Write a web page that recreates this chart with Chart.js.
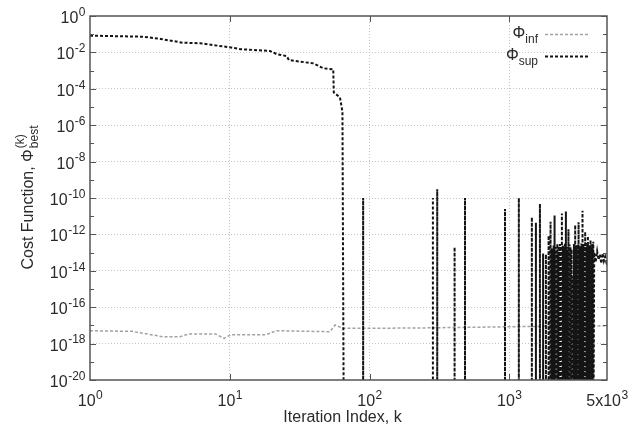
<!DOCTYPE html>
<html>
<head>
<meta charset="utf-8">
<script src="https://cdn.jsdelivr.net/npm/chart.js@4.4.0/dist/chart.umd.min.js"></script>
<style>
html, body { margin: 0; padding: 0; background: #fff; }
#wrap { width: 640px; height: 434px; }
</style>
</head>
<body>
<div id="wrap"><canvas id="myChart"></canvas></div>
<script>
// anything below the axis floor stands for "zero" on the log plot
var FLOOR = 1e-25;

// Phi_sup: smooth descent before the collapse
var supK   = [1, 2.4, 3.2, 4.6, 6.1, 10, 12, 19.4, 21.6, 25.5, 26.5, 31.8, 39.6, 46.6, 55, 55.5, 61.4, 64, 65.6];
var supVal = [8.3e-2, 7.3e-2, 5.5e-2, 3.4e-2, 3.2e-2, 1.9e-2, 1.5e-2, 1.2e-2, 8.1e-3, 6.3e-3, 3.8e-3, 3.1e-3, 2.5e-3, 1.35e-3, 1.17e-3, 6.3e-5, 3.4e-5, 5.5e-6, FLOOR];

// Phi_sup: isolated spikes after the collapse
var spikeK    = [90, 284, 305, 406, 482, 932, 1170, 1450, 1550, 1656, 1745, 1828, 1910, 1973, 2010, 2040, 2075, 2108, 2140, 2170, 2205, 2238, 2270, 2300, 2340, 2378,
                 2420, 2460, 2500, 2540, 2570, 2600, 2650, 2700, 2740, 2790, 2840, 2900, 2960, 3000, 3040, 3090, 3130, 3180, 3230, 3280, 3340, 3380, 3420, 3490, 3530, 3570, 3610, 3650, 3690, 3730, 3810, 3860, 3900, 3950, 3990];
var spikePeak = [1e-10, 1e-10, 3e-10, 2e-13, 1e-10, 2.5e-11, 1e-10, 8.7e-12, 4.4e-12, 4.7e-11, 9e-14, 8e-14, 8.5e-13, 5e-12, 1.8e-13, 1.5e-13, 2.5e-13, 1.1e-11, 1.2e-13, 2e-13, 3e-13, 1e-13, 2.2e-13, 3e-13, 1.6e-13, 1.4e-11,
                 2.4e-13, 2e-13, 3.5e-13, 1.8e-11, 2e-13, 1.5e-13, 1.9e-12, 2.8e-13, 2e-13, 1.5e-13, 5e-15, 3e-13, 3.3e-12, 2.5e-13, 2e-13, 3e-13, 4.6e-12, 2.2e-13, 1.5e-13, 3.2e-13, 2e-11, 2.6e-13, 3e-13, 1.4e-12, 2.1e-13, 2e-13, 3.4e-13, 8e-13, 2.3e-13, 2.5e-13, 5e-13, 2.8e-13, 2e-13, 3e-13, 4e-13];

// Phi_sup: noisy tail
var tailK   = [4050, 4150, 4250, 4350, 4450, 4550, 4650, 4750, 4850, 4950, 5000];
var tailVal = [1e-13, 3e-14, 1.2e-13, 4e-14, 8e-14, 2.5e-14, 9e-14, 3.5e-14, 6e-14, 3e-14, 4e-14];

// Phi_inf
var infK   = [1, 2, 3.3, 4.4, 5.1, 7.9, 9.1, 10.2, 18.2, 21.6, 52, 56.7, 64.5, 85, 220, 700, 2000, 5000];
var infVal = [5.1e-18, 4.7e-18, 2.4e-18, 2.4e-18, 3.4e-18, 3.4e-18, 1.95e-18, 3.1e-18, 3.1e-18, 5.1e-18, 4.5e-18, 1.05e-17, 6.9e-18, 6.9e-18, 7.2e-18, 8.1e-18, 9e-18, 9.5e-18];

// ticks
var xTicks = [1, 10, 100, 1000, 5000];
var xTickBase = ['10', '10', '10', '10', '5x10'];
var xTickExp  = ['0', '1', '2', '3', '3'];
var yMajorExp = [0, -2, -4, -6, -8, -10, -12, -14, -16, -18, -20];
var yMinorExp = [-1, -3, -5, -7, -9, -11, -13, -15, -17, -19];

var FONT = '"Liberation Sans", Arial, sans-serif';
var TEXT = '#2a2a2a';
var FRAME = '#555';

var supPoints = [];
for (var i = 0; i < supK.length; i++) supPoints.push({x: supK[i], y: supVal[i]});
for (var i = 0; i < spikeK.length; i++) {
  supPoints.push({x: spikeK[i], y: FLOOR});
  supPoints.push({x: spikeK[i], y: spikePeak[i]});
  supPoints.push({x: spikeK[i], y: FLOOR});
}
for (var i = 0; i < tailK.length; i++) supPoints.push({x: tailK[i], y: tailVal[i]});

var infPoints = [];
for (var i = 0; i < infK.length; i++) infPoints.push({x: infK[i], y: infVal[i]});

var yAllTicks = yMajorExp.concat(yMinorExp).map(function (e) { return Math.pow(10, e); });

function drawPow(ctx, base, exp, x, y, align, size, esize) {
  ctx.font = size + 'px ' + FONT;
  var wb = ctx.measureText(base).width;
  ctx.font = esize + 'px ' + FONT;
  var we = ctx.measureText(exp).width;
  var start = align === 'right' ? x - wb - we : x - (wb + we) / 2;
  ctx.textAlign = 'left';
  ctx.textBaseline = 'alphabetic';
  ctx.font = size + 'px ' + FONT;
  ctx.fillText(base, start, y);
  ctx.font = esize + 'px ' + FONT;
  ctx.fillText(exp, start + wb + 0.5, y - size * 0.45);
}

var framePlugin = {
  id: 'frame',
  afterDraw: function (chart) {
    var ctx = chart.ctx, a = chart.chartArea;
    var xs = chart.scales.x, ys = chart.scales.y;
    ctx.save();

    // frame
    ctx.strokeStyle = FRAME;
    ctx.lineWidth = 1.5;
    ctx.setLineDash([]);
    ctx.strokeRect(a.left, a.top, a.right - a.left, a.bottom - a.top);

    // inward ticks
    ctx.lineWidth = 1;
    ctx.beginPath();
    yMajorExp.concat(yMinorExp).forEach(function (e) {
      var py = Math.round(ys.getPixelForValue(Math.pow(10, e))) + 0.5;
      var len = (e % 2 === 0) ? 6 : 4;
      ctx.moveTo(a.left, py); ctx.lineTo(a.left + len, py);
      ctx.moveTo(a.right, py); ctx.lineTo(a.right - len, py);
    });
    [10, 100, 1000].forEach(function (v) {
      var px = Math.round(xs.getPixelForValue(v)) + 0.5;
      ctx.moveTo(px, a.bottom); ctx.lineTo(px, a.bottom - 6);
      ctx.moveTo(px, a.top); ctx.lineTo(px, a.top + 6);
    });
    ctx.stroke();

    // tick labels
    ctx.fillStyle = TEXT;
    yMajorExp.forEach(function (e) {
      var py = ys.getPixelForValue(Math.pow(10, e));
      drawPow(ctx, '10', String(e), a.left - 5, py + 7, 'right', 16, 12);
    });
    xTicks.forEach(function (v, i) {
      var px = xs.getPixelForValue(v);
      drawPow(ctx, xTickBase[i], xTickExp[i], px, a.bottom + 26, 'center', 16, 12);
    });

    // x title
    ctx.font = '16px ' + FONT;
    ctx.textAlign = 'center';
    ctx.textBaseline = 'alphabetic';
    ctx.fillText('Iteration Index, k', (a.left + a.right) / 2 - 6, 422);

    // y title, rotated
    ctx.save();
    ctx.translate(33, (a.top + a.bottom) / 2);
    ctx.rotate(-Math.PI / 2);
    ctx.font = '16px ' + FONT;
    var main = 'Cost Function, \u03A6';
    var wm = ctx.measureText(main).width;
    ctx.font = '12px ' + FONT;
    var wk = ctx.measureText('(k)').width, wbst = ctx.measureText('best').width;
    var total = wm + Math.max(wk, wbst);
    var sx = -total / 2;
    ctx.textAlign = 'left';
    ctx.font = '16px ' + FONT;
    ctx.fillText(main, sx, 0);
    ctx.font = '12px ' + FONT;
    ctx.fillText('(k)', sx + wm + 1, -9);
    ctx.fillText('best', sx + wm + 1, 5);
    ctx.restore();

    // legend
    var rows = [
      {sub: 'inf', ds: chart.data.datasets[0], y: 34},
      {sub: 'sup', ds: chart.data.datasets[1], y: 56}
    ];
    rows.forEach(function (r) {
      ctx.font = '12px ' + FONT;
      var ws = ctx.measureText(r.sub).width;
      ctx.font = '16px ' + FONT;
      var wp = ctx.measureText('\u03A6').width;
      var right = 538;
      ctx.fillStyle = TEXT;
      ctx.textAlign = 'left';
      ctx.fillText('\u03A6', right - ws - wp, r.y + 4);
      ctx.font = '12px ' + FONT;
      ctx.fillText(r.sub, right - ws, r.y + 9);
      ctx.strokeStyle = r.ds.borderColor;
      ctx.lineWidth = r.ds.borderWidth;
      ctx.setLineDash(r.ds.borderDash);
      ctx.beginPath();
      ctx.moveTo(545, r.y + 0.5);
      ctx.lineTo(588, r.y + 0.5);
      ctx.stroke();
    });

    ctx.restore();
  }
};

var ctx = document.getElementById('myChart');

var myChart = new Chart(ctx, {
  type: 'line',
  data: {
    datasets: [{
      label: '\u03A6inf',
      data: infPoints,
      borderColor: '#a2a2a2',
      borderWidth: 1.5,
      borderDash: [3, 2],
      order: 1
    }, {
      label: '\u03A6sup',
      data: supPoints,
      borderColor: '#141414',
      borderWidth: 2,
      borderDash: [3, 2],
      order: 0
    }]
  },
  options: {
    responsive: true,
    maintainAspectRatio: false,
    animation: false,
    layout: { padding: { top: 16, right: 33, left: 0, bottom: 0 } },
    elements: { point: { radius: 0 }, line: { tension: 0 } },
    plugins: { legend: { display: false }, tooltip: { enabled: false } },
    scales: {
      x: {
        type: 'logarithmic',
        min: 1,
        max: 5000,
        afterBuildTicks: function (s) { s.ticks = xTicks.map(function (v) { return {value: v}; }); },
        afterFit: function (s) { s.height = 54; },
        ticks: { display: false },
        grid: {
          drawTicks: false,
          lineWidth: 1,
          color: function (c) {
            var v = c.tick ? c.tick.value : 0;
            return (v > 1 && v < 5000) ? '#c4c4c4' : 'rgba(0,0,0,0)';
          }
        },
        border: { display: false, dash: [1, 2] }
      },
      y: {
        type: 'logarithmic',
        min: 1e-20,
        max: 1,
        afterBuildTicks: function (s) { s.ticks = yAllTicks.map(function (v) { return {value: v}; }); },
        afterFit: function (s) { s.width = 90; },
        ticks: { display: false },
        grid: {
          drawTicks: false,
          lineWidth: 1,
          color: function (c) {
            if (!c.tick) return 'rgba(0,0,0,0)';
            var e = Math.round(Math.log10(c.tick.value));
            return (e % 2 === 0 && e < 0 && e > -20) ? '#c4c4c4' : 'rgba(0,0,0,0)';
          }
        },
        border: { display: false, dash: [1, 2] }
      }
    }
  },
  plugins: [framePlugin]
});
</script>
</body>
</html>
